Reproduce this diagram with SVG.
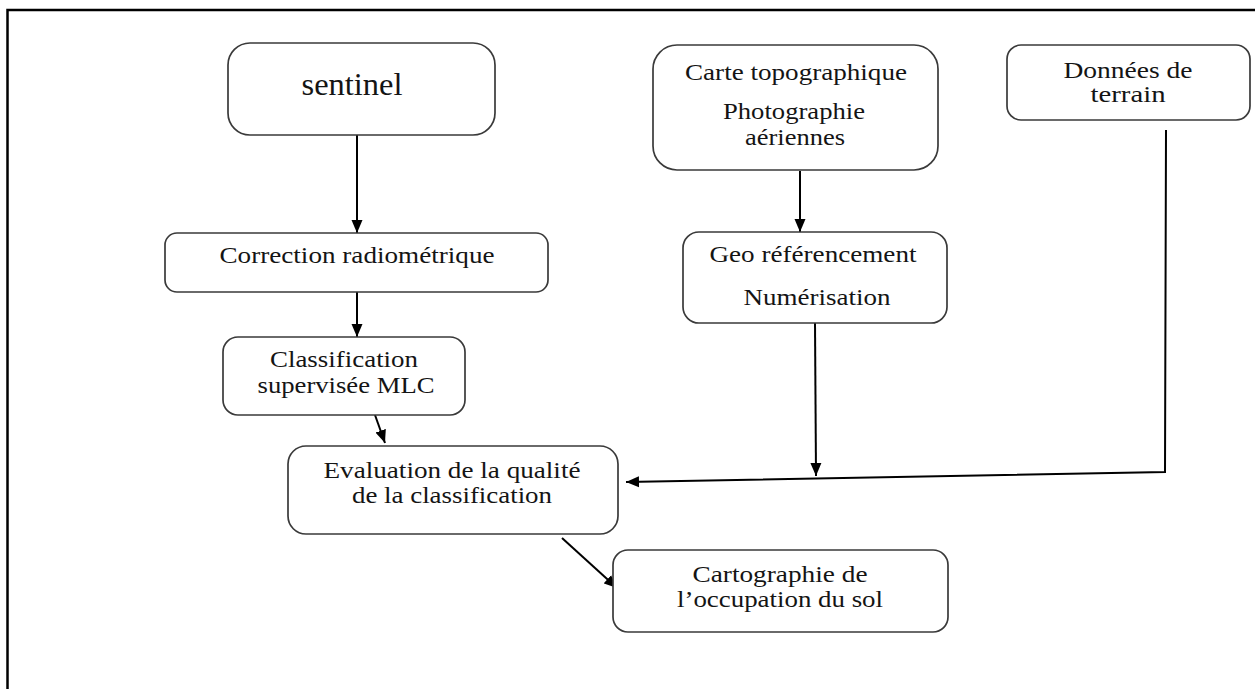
<svg xmlns="http://www.w3.org/2000/svg" width="1255" height="689" viewBox="0 0 1255 689">
<defs>
<marker id="ah" markerUnits="userSpaceOnUse" markerWidth="14" markerHeight="12" viewBox="0 0 14 12" refX="13" refY="6" orient="auto">
<path d="M0,0.5 L13,6 L0,11.5 Z" fill="#000"/>
</marker>
<style>
.box{fill:#fff;stroke:#3a3a3a;stroke-width:1.7}
.t{font-family:"Liberation Serif","Times New Roman",serif;font-size:23px;fill:#141414;text-anchor:middle}
.c{fill:none;stroke:#000;stroke-width:2}
.a{marker-end:url(#ah)}
</style>
</defs>
<rect width="1255" height="689" fill="#fff"/>
<g id="frame" fill="none" stroke="#000" stroke-width="2.5">
<path d="M7.5,689 L7.5,10 L1255,10"/>
</g>
<g id="connectors">
<path class="c a" d="M357,135 L357,233"/>
<path class="c a" d="M357,292 L357,337"/>
<path class="c a" d="M375,415 L385,443"/>
<path class="c a" d="M800,171 L800,232"/>
<path class="c a" d="M815,323 L816,476"/>
<path class="c a" d="M1166,130 L1165,472 L626,482"/>
<path class="c a" d="M562,538 L617,588"/>
</g>
<g id="sentinel">
<rect class="box" x="228" y="43" width="267" height="92" rx="22"/>
<text class="t" x="352" y="95" style="font-size:32px" textLength="101" lengthAdjust="spacingAndGlyphs">sentinel</text>
</g>
<g id="carte">
<rect class="box" x="653" y="45" width="285" height="125" rx="24"/>
<text class="t" x="796" y="80" textLength="222" lengthAdjust="spacingAndGlyphs">Carte topographique</text>
<text class="t" x="794" y="119" textLength="142" lengthAdjust="spacingAndGlyphs">Photographie</text>
<text class="t" x="795" y="145" textLength="100" lengthAdjust="spacingAndGlyphs">aériennes</text>
</g>
<g id="donnees">
<rect class="box" x="1007" y="45" width="243" height="75" rx="14"/>
<text class="t" x="1128" y="78" textLength="129" lengthAdjust="spacingAndGlyphs">Données de</text>
<text class="t" x="1128" y="102" textLength="75" lengthAdjust="spacingAndGlyphs">terrain</text>
</g>
<g id="correction">
<rect class="box" x="165" y="233" width="383" height="59" rx="12"/>
<text class="t" x="357" y="263" textLength="275" lengthAdjust="spacingAndGlyphs">Correction radiométrique</text>
</g>
<g id="classification">
<rect class="box" x="223" y="337" width="242" height="78" rx="15"/>
<text class="t" x="344" y="367" textLength="148" lengthAdjust="spacingAndGlyphs">Classification</text>
<text class="t" x="346" y="393" textLength="177" lengthAdjust="spacingAndGlyphs">supervisée MLC</text>
</g>
<g id="geo">
<rect class="box" x="683" y="232" width="264" height="91" rx="16"/>
<text class="t" x="813" y="262" textLength="207" lengthAdjust="spacingAndGlyphs">Geo référencement</text>
<text class="t" x="817" y="305" textLength="147" lengthAdjust="spacingAndGlyphs">Numérisation</text>
</g>
<g id="evaluation">
<rect class="box" x="288" y="446" width="330" height="88" rx="18"/>
<text class="t" x="452" y="478" textLength="257" lengthAdjust="spacingAndGlyphs">Evaluation de la qualité</text>
<text class="t" x="452" y="503" textLength="200" lengthAdjust="spacingAndGlyphs">de la classification</text>
</g>
<g id="cartographie">
<rect class="box" x="613" y="550" width="335" height="82" rx="15"/>
<text class="t" x="780" y="582" textLength="175" lengthAdjust="spacingAndGlyphs">Cartographie de</text>
<text class="t" x="780" y="607" textLength="206" lengthAdjust="spacingAndGlyphs">l’occupation du sol</text>
</g>
</svg>
